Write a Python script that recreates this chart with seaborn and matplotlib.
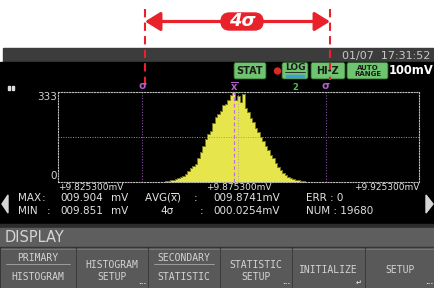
"""Histogram screen of a DMM (STAT mode) with the 4 sigma span marked on top."""
import numpy as np
import pandas as pd
import matplotlib
matplotlib.use('Agg')
import matplotlib.pyplot as plt
import seaborn as sns
from matplotlib import font_manager
from matplotlib.patches import Rectangle, FancyBboxPatch, Circle, Polygon

# histogram bin counts from left to right
counts = [2, 4, 6, 8, 11, 14, 17, 22, 30, 42, 50, 58, 68, 88, 112, 132,
          160, 176, 190, 218, 240, 252, 262, 285, 290, 305, 322, 333, 305, 318,
          296, 325, 272, 258, 238, 222, 200, 186, 168, 152, 132, 118, 100, 88,
          70, 56, 44, 34, 26, 20, 15, 12, 9, 7, 5, 3]
hist_start = 9.8549    # mV, left edge of first bin
bin_width = 0.000693   # mV

x_min, x_max = 9.8253, 9.9253
x_tick_labels = ['+9.825300mV', '+9.875300mV', '+9.925300mV']
y_max = 333
mean_val = 9.8741
four_sigma = 0.0254

stats_row1 = ['MAX', '009.904', 'mV', r'AVG($\overline{\mathrm{x}}$)', '009.8741mV', 'ERR : 0']
stats_row2 = ['MIN', '009.851', 'mV', '4σ', '000.0254mV', 'NUM : 19680']
date_text = '01/07  17:31:52'
range_text = '100mV'
button_labels = [('PRIMARY', 'HISTOGRAM'), ('HISTOGRAM', 'SETUP'), ('SECONDARY', 'STATISTIC'),
                 ('STATISTIC', 'SETUP'), 'INITIALIZE', 'SETUP']
button_split = [True, False, True, False, False, False]
button_marks = ['', '...', '', '...', '↵', '...']

sns.set_style('white')
names = {f.name for f in font_manager.fontManager.ttflist}
narrow = 'Liberation Sans Narrow' if 'Liberation Sans Narrow' in names else 'DejaVu Sans'
plt.rcParams['font.family'] = ['DejaVu Sans']

RED = '#e8212b'
GREEN = '#6fc46f'
MAGENTA = '#b060cc'
TXT = '#e2e2e2'
KEY = '#d4d4d4'

fig = plt.figure(figsize=(4.35, 2.88), dpi=100, facecolor='white')

# overlay axes in pixel coordinates for the screen furniture
ov = fig.add_axes([0, 0, 1, 1])
ov.set_xlim(0, 435)
ov.set_ylim(288, 0)
ov.axis('off')
ov.set_zorder(0)

ov.add_patch(Rectangle((3, 48), 432, 14, color='#3c3c3c'))
ov.add_patch(Rectangle((0, 62), 435, 162, color='black'))
ov.add_patch(Rectangle((0, 224), 435, 4, color='#2c2c2c'))
ov.add_patch(Rectangle((0, 228), 435, 19, color='#5e5e5e'))
ov.add_patch(Rectangle((0, 247), 435, 41, color='#2e2e2e'))
ov.text(430, 55.5, date_text, ha='right', va='center', color='#c8c8c8', fontsize=8, family=narrow)

# status badges
for (bx, bw, lab) in [(234, 32, 'STAT'), (282, 26, 'LOG'), (311, 34, 'HI-Z'), (347, 41, 'AUTO\nRANGE')]:
    ov.add_patch(FancyBboxPatch((bx, 62.5), bw, 16.5, boxstyle='round,pad=0,rounding_size=2',
                                fc=GREEN, ec='#2d5a2d', lw=0.6))
    if lab == 'LOG':
        ov.text(bx + bw / 2, 68, lab, ha='center', va='center', color='#1c1c1c', fontsize=6.5,
                fontweight='bold')
        ov.plot([bx + 3, bx + bw - 3], [72.3, 72.3], color='#1c1c1c', lw=0.6)
        ov.add_patch(Rectangle((bx + 4, 74.5), bw - 8, 2, color='#3f9ee0'))
    elif lab.startswith('AUTO'):
        ov.text(bx + bw / 2, 70.8, lab, ha='center', va='center', color='#1c1c1c', fontsize=5,
                fontweight='bold', linespacing=0.95)
    else:
        ov.text(bx + bw / 2, 71, lab, ha='center', va='center', color='#1c1c1c', fontsize=7,
                fontweight='bold')
ov.add_patch(Circle((277.5, 71), 3, color='#e02828'))
ov.text(295, 88, '2', ha='center', va='center', color='#4cc04c', fontsize=6, fontweight='bold')
ov.text(389, 71, range_text, ha='left', va='center', color='white', fontsize=8.3, fontweight='bold')

# pause sign
ov.add_patch(Rectangle((8.3, 85.7), 1.8, 4, color='#dddddd'))
ov.add_patch(Rectangle((11.8, 85.7), 1.8, 4, color='#dddddd'))

# stats block
row_y = [198, 211]
row1_x = [18, 60, 111, 144, 213, 306]
row2_x = [18, 60, 111, 160, 213, 306]
for xx, s in zip(row1_x, stats_row1):
    ov.text(xx, row_y[0], s, ha='left', va='center', color=TXT, fontsize=7.5, family=narrow)
for xx, s in zip(row2_x, stats_row2):
    ov.text(xx, row_y[1], s, ha='left', va='center', color=TXT, fontsize=7.5, family=narrow)
ov.text(42, row_y[0], ':', ha='left', va='center', color=TXT, fontsize=7.5, family=narrow)
ov.text(47, row_y[1], ':', ha='left', va='center', color=TXT, fontsize=7.5, family=narrow)
ov.text(194, row_y[0], ':', ha='left', va='center', color=TXT, fontsize=7.5, family=narrow)
ov.text(200, row_y[1], ':', ha='left', va='center', color=TXT, fontsize=7.5, family=narrow)
ov.add_patch(Polygon([(8, 195), (8, 213), (2, 204)], color='#d6d6d6'))
ov.add_patch(Polygon([(426, 195), (426, 213), (433, 204)], color='#d6d6d6'))

# soft key area
ov.text(5, 238, 'DISPLAY', ha='left', va='center', color=KEY, fontsize=10.5)
edges = [0, 76, 148, 220, 292, 365, 435]
for i, lab in enumerate(button_labels):
    x0, x1 = edges[i], edges[i + 1]
    ov.add_patch(Rectangle((x0 + 1, 248), x1 - x0 - 2, 40, color='#595959'))
    ov.plot([x0 + 1, x1 - 1], [248.5, 248.5], color='#7c7c7c', lw=0.6)
    cx = (x0 + x1) / 2
    if button_split[i]:
        ov.text(cx, 258, lab[0], ha='center', va='center', color=KEY, fontsize=7, family='DejaVu Sans Mono')
        ov.plot([x0 + 6, x1 - 6], [264, 264], color='#a8a8a8', lw=0.6)
        ov.text(cx, 277.5, lab[1], ha='center', va='center', color=KEY, fontsize=7, family='DejaVu Sans Mono')
    elif isinstance(lab, tuple):
        ov.text(cx, 265, lab[0], ha='center', va='center', color=KEY, fontsize=7, family='DejaVu Sans Mono')
        ov.text(cx, 277, lab[1], ha='center', va='center', color=KEY, fontsize=7, family='DejaVu Sans Mono')
    else:
        ov.text(cx, 270, lab, ha='center', va='center', color=KEY, fontsize=7, family='DejaVu Sans Mono')
    if button_marks[i]:
        ov.text(x1 - 6, 282.5, button_marks[i], ha='center', va='center', color='#e0e0e0', fontsize=5,
                fontweight='bold')

# 4 sigma callout
ov.plot([145, 145], [9, 86], color=RED, lw=1.5, ls=(0, (4, 2.5)))
ov.plot([330, 330], [9, 80], color=RED, lw=1.5, ls=(0, (4, 2.5)))
ov.annotate('', xy=(145, 21.5), xytext=(330, 21.5),
            arrowprops=dict(arrowstyle='<|-|>,head_length=0.42,head_width=0.26', color=RED, lw=2.3,
                            mutation_scale=22, shrinkA=0, shrinkB=0))
ov.add_patch(FancyBboxPatch((221, 13), 42, 17, boxstyle='round,pad=0,rounding_size=8.5', color=RED))
ov.text(242, 21.5, '4σ', ha='center', va='center', color='white', fontsize=13, fontweight='bold',
        fontstyle='italic')

# histogram panel
ax = fig.add_axes([58 / 435, (288 - 182) / 288, 361 / 435, 90 / 288])
ax.set_zorder(1)
bin_edges = hist_start + bin_width * np.arange(len(counts) + 1)
hist_df = pd.DataFrame({'value': bin_edges[:-1] + bin_width / 2, 'count': counts})
sns.histplot(data=hist_df, x='value', weights='count', bins=bin_edges.tolist(), element='step',
             fill=True, color='#e6e64c', alpha=1, edgecolor='#76761e', linewidth=0.7, ax=ax)
ax.set_xlim(x_min, x_max)
ax.set_ylim(0, y_max)
ax.set_facecolor('black')
ax.set_xticks([])
ax.set_yticks([])
ax.set_xlabel('')
ax.set_ylabel('')
for sp in ax.spines.values():
    sp.set_color('#bdbdbd')
    sp.set_linestyle((0, (1, 1.5)))
    sp.set_linewidth(0.8)
dots = (0, (1, 1.5))
ax.axhline(y_max / 2, color='#9a9a9a', ls=dots, lw=0.7)
ax.axvline((x_min + x_max) / 2, color='#a0a0a0', ls=dots, lw=0.8, alpha=0.8)
for s in (mean_val - four_sigma, mean_val + four_sigma):
    ax.axvline(s, color='#8a4aa8', ls=dots, lw=0.8)
    ax.text(s, 1.065, 'σ', transform=ax.get_xaxis_transform(), ha='center', va='center',
            color=MAGENTA, fontsize=7.5, fontweight='bold')
ax.axvline(mean_val, color='#c468e6', ls=(0, (3, 2)), lw=0.9)
ax.text(mean_val, 1.065, r'$\overline{\mathbf{x}}$', transform=ax.get_xaxis_transform(), ha='center',
        va='center', color=MAGENTA, fontsize=7)

tick_pos = [x_min, (x_min + x_max) / 2, x_max]
for xp, lab, ha in zip(tick_pos, x_tick_labels, ['left', 'center', 'right']):
    ax.text(xp, -0.065, lab, transform=ax.get_xaxis_transform(), ha=ha, va='center',
            color=TXT, fontsize=6.5, family=narrow)
ax.text(-0.004, y_max, str(y_max), transform=ax.get_yaxis_transform(), ha='right', va='top',
        color='#d0d0d0', fontsize=7.5, family=narrow)
ax.text(-0.004, 4, '0', transform=ax.get_yaxis_transform(), ha='right', va='bottom',
        color='#d0d0d0', fontsize=7.5, family=narrow)

fig.savefig('out.png', dpi=100, facecolor='white')
